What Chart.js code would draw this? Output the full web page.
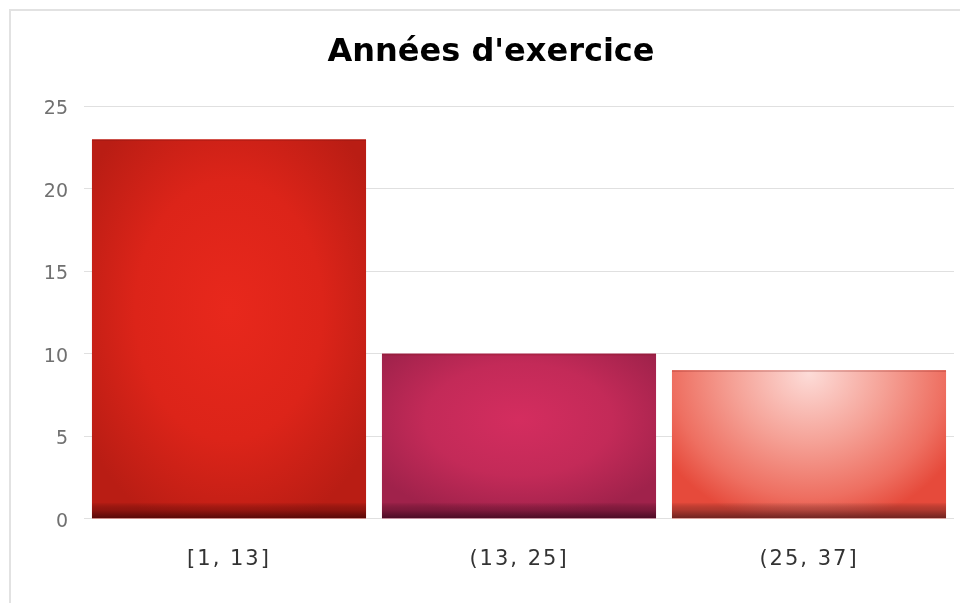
<!DOCTYPE html>
<html>
<head>
<meta charset="utf-8">
<script src="https://cdn.jsdelivr.net/npm/chart.js@4/dist/chart.umd.min.js"></script>
<style>
  html, body { margin: 0; padding: 0; background: #fff; }
  #wrap { position: relative; width: 960px; height: 603px; }
  #frame { position: absolute; left: 9px; top: 9px; right: 0; bottom: 0;
           border-left: 2px solid #e2e2e2; border-top: 2px solid #e2e2e2; }
  canvas { position: absolute; left: 0; top: 0; }
</style>
</head>
<body>
<div id="wrap">
  <div id="frame"></div>
  <canvas id="c" width="960" height="603"></canvas>
</div>
<script>
const titleText = "Années d'exercice";
const categories = ["[1, 13]", "(13, 25]", "(25, 37]"];
const counts = [23, 10, 9];
const yTicks = [0, 5, 10, 15, 20, 25];

// visual palette (style only)
const barStyles = [
  { base: '#d3221a', stops: [[0, '#e8281c'], [0.55, '#dc2419'], [1, '#b91d14']], cy: 0.45, dark: 'rgba(70,5,5,0.85)' },
  { base: '#c42a58', stops: [[0, '#d42d5f'], [0.55, '#c32a58'], [1, '#a0224b']], cy: 0.4, dark: 'rgba(60,8,30,0.85)' },
  { base: '#f07060', stops: [[0, '#fddcd8'], [0.45, '#f5a196'], [0.8, '#ee6f61'], [1, '#e64a3b']], cy: 0.02, dark: 'rgba(80,25,25,0.8)' }
];

const shadePlugin = {
  id: 'shade',
  afterDatasetsDraw(chart) {
    const ctx = chart.ctx;
    const meta = chart.getDatasetMeta(0);
    meta.data.forEach((bar, i) => {
      const p = bar.getProps(['x', 'y', 'base', 'width'], true);
      const st = barStyles[i % barStyles.length];
      const left = p.x - p.width / 2, top = Math.min(p.y, p.base), h = Math.abs(p.base - p.y);
      ctx.save();
      ctx.beginPath();
      ctx.rect(left, top, p.width, h);
      ctx.clip();
      ctx.save();
      ctx.translate(p.x, top + h * st.cy);
      ctx.scale(p.width * 0.62, h * (st.cy < 0.1 ? 1.05 : 0.62));
      const g = ctx.createRadialGradient(0, 0, 0, 0, 0, 1);
      st.stops.forEach(s => g.addColorStop(s[0], s[1]));
      ctx.fillStyle = g;
      ctx.fillRect(-3, -3, 6, 6);
      ctx.restore();
      const bandH = 16;
      const lg = ctx.createLinearGradient(0, p.base - bandH, 0, p.base);
      lg.addColorStop(0, 'rgba(0,0,0,0)');
      lg.addColorStop(0.45, st.dark.replace(/[\d.]+\)$/, '0.35)'));
      lg.addColorStop(1, st.dark);
      ctx.fillStyle = lg;
      ctx.fillRect(left, p.base - bandH, p.width, bandH);
      ctx.fillStyle = 'rgba(120,20,20,0.25)';
      ctx.fillRect(left, top, p.width, 1.5);
      ctx.restore();
    });
  }
};

new Chart(document.getElementById('c'), {
  type: 'bar',
  data: {
    labels: categories,
    datasets: [{
      data: counts,
      backgroundColor: barStyles.map(s => s.base),
      borderWidth: 0,
      categoryPercentage: 1.0,
      barPercentage: 0.945
    }]
  },
  options: {
    responsive: false,
    animation: false,
    layout: { padding: { left: 28, right: 6, top: 10, bottom: 11 } },
    plugins: {
      legend: { display: false },
      tooltip: { enabled: false },
      title: {
        display: true,
        text: titleText,
        color: '#000',
        font: { family: 'DejaVu Sans', size: 32, weight: 'bold', lineHeight: 1.2 },
        padding: { top: 23, bottom: 35 }
      }
    },
    scales: {
      x: {
        grid: { display: false },
        border: { display: false },
        afterUpdate(scale) {
          if (scale._spaced) return;
          scale._spaced = true;
          const orig = scale.drawLabels.bind(scale);
          scale.drawLabels = function (area) {
            const ctx = this.ctx;
            const prev = ctx.letterSpacing;
            ctx.letterSpacing = '2px';
            orig(area);
            ctx.letterSpacing = prev || '0px';
          };
        },
        ticks: { color: '#333', padding: 20, font: { family: 'DejaVu Sans', size: 21 } }
      },
      y: {
        min: 0, max: 25,
        afterFit(scale) { scale.width = 56; },
        afterBuildTicks(scale) { scale.ticks = yTicks.map(v => ({ value: v })); },
        grid: { color: '#e0e0e0', lineWidth: 1, drawTicks: false },
        border: { display: false },
        ticks: { color: '#707070', padding: 16, labelOffset: 3, font: { family: 'DejaVu Sans', size: 19 } }
      }
    }
  },
  plugins: [shadePlugin]
});
</script>
</body>
</html>
